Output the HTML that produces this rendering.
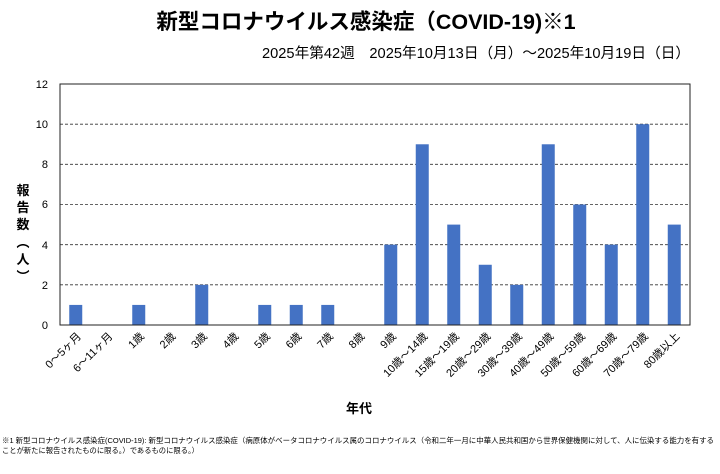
<!DOCTYPE html><html><head><meta charset="utf-8"><style>body{margin:0;background:#fff}svg{display:block}text{font-family:"Liberation Sans","Noto Sans CJK JP",sans-serif}</style></head><body>
<svg width="720" height="474" xmlns="http://www.w3.org/2000/svg">
<rect width="720" height="474" fill="#fff"/>
<text x="366" y="29" text-anchor="middle" font-size="21.5" font-weight="bold">新型コロナウイルス感染症（COVID-19)※1</text>
<text x="690" y="58" text-anchor="end" font-size="14.5" textLength="428" lengthAdjust="spacingAndGlyphs">2025年第42週　2025年10月13日（月）～2025年10月19日（日）</text>
<g stroke="#333" stroke-dasharray="3,2" stroke-width="0.8">
<line x1="60" x2="690" y1="124.2"  y2="124.2"/><line x1="60" x2="690" y1="164.3" y2="164.3"/><line x1="60" x2="690" y1="204.5" y2="204.5"/><line x1="60" x2="690" y1="244.7" y2="244.7"/><line x1="60" x2="690" y1="284.8" y2="284.8"/>
</g>
<g font-size="11" text-anchor="end"><text x="48" y="88">12</text><text x="48" y="128">10</text><text x="48" y="168">8</text><text x="48" y="208">6</text><text x="48" y="249">4</text><text x="48" y="289">2</text><text x="48" y="329">0</text></g>
<g fill="#4472C4" id="bars"></g>
<rect x="60" y="84" width="630" height="241" fill="none" stroke="#222" stroke-width="1"/>
<g id="labels" font-size="11"></g>
<text x="23" y="195" text-anchor="middle" font-size="13" font-weight="bold">報</text>
<text x="23" y="212" text-anchor="middle" font-size="13" font-weight="bold">告</text>
<text x="23" y="229" text-anchor="middle" font-size="13" font-weight="bold">数</text>
<text x="23" y="247" text-anchor="middle" font-size="13" font-weight="bold">︵</text>
<text x="23" y="264" text-anchor="middle" font-size="13" font-weight="bold">人</text>
<text x="23" y="281" text-anchor="middle" font-size="13" font-weight="bold">︶</text>
<text x="359" y="413" text-anchor="middle" font-size="13" font-weight="bold">年代</text>
<text x="2" y="443" font-size="7.3" textLength="712" lengthAdjust="spacingAndGlyphs">※1 新型コロナウイルス感染症(COVID-19): 新型コロナウイルス感染症（病原体がベータコロナウイルス属のコロナウイルス（令和二年一月に中華人民共和国から世界保健機関に対して、人に伝染する能力を有する</text>
<text x="2" y="453" font-size="7.3">ことが新たに報告されたものに限る。）であるものに限る。）</text>
<script>
var v=[1,0,1,0,2,0,1,1,1,0,4,9,5,3,2,9,6,4,10,5];
var l=["0～5ヶ月","6～11ヶ月","1歳","2歳","3歳","4歳","5歳","6歳","7歳","8歳","9歳","10歳～14歳","15歳～19歳","20歳～29歳","30歳～39歳","40歳～49歳","50歳～59歳","60歳～69歳","70歳～79歳","80歳以上"];
var b=document.getElementById('bars'),g=document.getElementById('labels'),ns="http://www.w3.org/2000/svg";
for(var i=0;i<20;i++){var c=75.75+i*31.5;if(v[i]){var r=document.createElementNS(ns,'rect');r.setAttribute('x',c-6.5);r.setAttribute('width',13);r.setAttribute('y',325-v[i]*20.08);r.setAttribute('height',v[i]*20.08);b.appendChild(r);}
var t=document.createElementNS(ns,'text');t.setAttribute('text-anchor','end');t.setAttribute('transform','translate('+(c+6)+',337) rotate(-45)');t.textContent=l[i];g.appendChild(t);}
</script>
</svg></body></html>
